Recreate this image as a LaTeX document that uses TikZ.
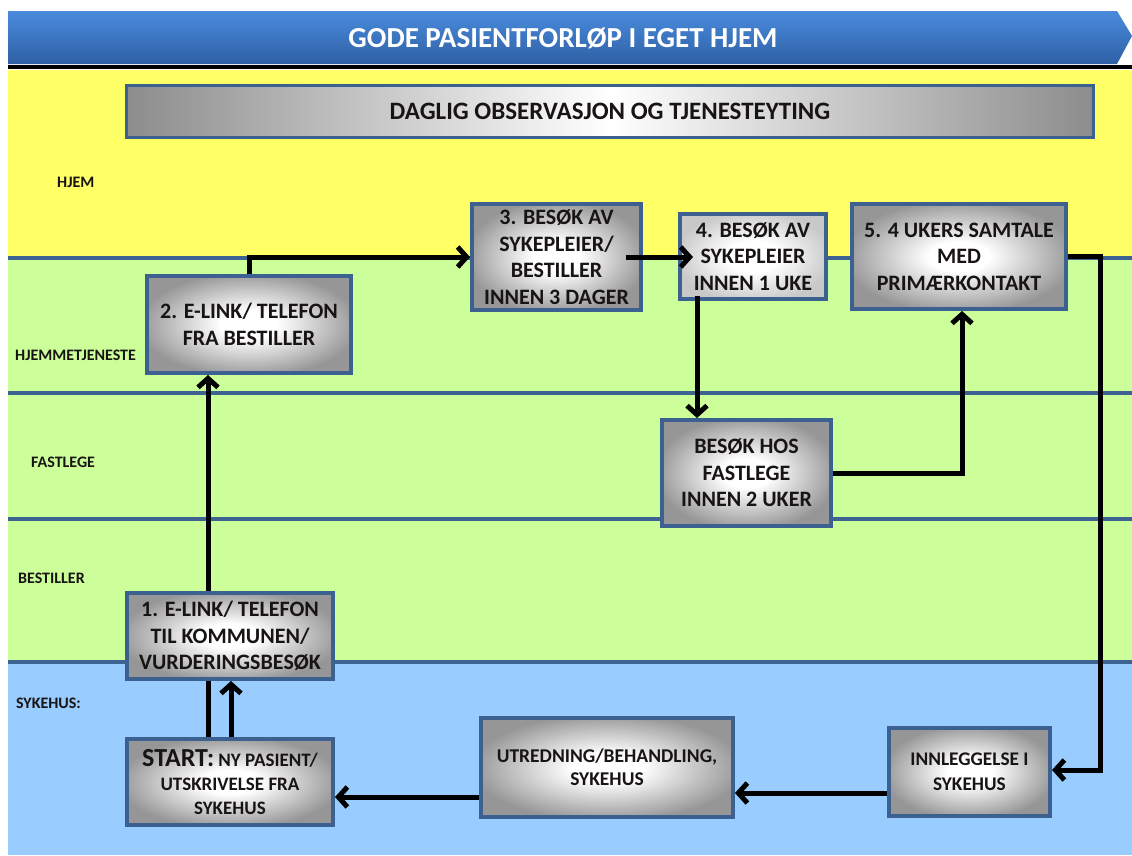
\documentclass[tikz,border=0pt]{standalone}
\usepackage{fontspec}
\setmainfont{Carlito}
\usetikzlibrary{arrows.meta,calc}
\definecolor{laneY}{RGB}{255,255,102}
\definecolor{laneG}{RGB}{204,255,153}
\definecolor{laneB}{RGB}{153,204,255}
\definecolor{sep}{RGB}{61,99,146}
\definecolor{bord}{RGB}{60,96,144}
\definecolor{titletop}{RGB}{74,139,221}
\definecolor{titlebot}{RGB}{46,96,164}
\definecolor{txt}{RGB}{25,20,20}
\definecolor{edgegray}{RGB}{150,150,150}
\definecolor{lightgray2}{RGB}{200,200,200}
\pgfdeclareradialshading{boxshade}{\pgfpoint{0bp}{0bp}}{color(0bp)=(white); color(7bp)=(white); color(27bp)=(edgegray); color(50bp)=(edgegray)}
\pgfdeclareradialshading{lightshade}{\pgfpoint{0bp}{0bp}}{color(0bp)=(white); color(9bp)=(white); color(27bp)=(lightgray2); color(50bp)=(lightgray2)}
\tikzset{
  box/.style={draw=bord, line width=4pt, shading=boxshade,
    align=center, text=txt, font=\fontsize{22}{26.5}\selectfont\bfseries, inner sep=2pt},
  lightbox/.style={box, shading=lightshade},
  lanelabel/.style={anchor=west, text=txt, font=\fontsize{16}{16}\selectfont\bfseries, inner sep=0pt},
  sepline/.style={draw=sep, line width=4pt},
  conn/.style={draw=black, line width=5pt},
  arr/.style={conn, -{Straight Barb[length=9pt,width=20pt]}}
}
\begin{document}
\begin{tikzpicture}[x=1pt,y=-1pt]
\useasboundingbox (0,0) rectangle (1132,855);
% lanes
\fill[laneY] (8,70) rectangle (1132,258);
\fill[laneG] (8,258) rectangle (1132,662);
\fill[laneB] (8,662) rectangle (1132,855);
\draw[sepline] (8,258) -- (1132,258);
\draw[sepline] (8,393) -- (1132,393);
\draw[sepline] (8,519) -- (1132,519);
\draw[sepline] (8,662) -- (1132,662);
% title bar
\shade[top color=titletop, bottom color=titlebot] (8,11) -- (1117,11) -- (1132,36) -- (1117,64) -- (8,64) -- cycle;
\draw[black, line width=4pt] (8,67) -- (1132,67);
\node[text=white, font=\fontsize{29}{29}\selectfont\bfseries] (title) at (563,38) {GODE PASIENTFORLØP I EGET HJEM};
% banner
\node[draw=bord, line width=3.5pt, left color=gray!90, right color=gray!90, middle color=white,
  minimum width=967pt, minimum height=52pt, text=txt, font=\fontsize{25}{25}\selectfont\bfseries]
  (banner) at (610,111.5) {DAGLIG OBSERVASJON OG TJENESTEYTING};
% lane labels
\node[lanelabel] (lHjem) at (57,182) {HJEM};
\node[lanelabel] (lHjt) at (15,355) {HJEMMETJENESTE};
\node[lanelabel] (lFast) at (31,462) {FASTLEGE};
\node[lanelabel] (lBest) at (18,578) {BESTILLER};
\node[lanelabel] (lSyk) at (16,703) {SYKEHUS:};
% boxes
\node[box, minimum width=204pt, minimum height=97pt] (b2) at (249,324.5) {2. E-LINK/ TELEFON\\FRA BESTILLER};
\node[box, minimum width=169pt, minimum height=106pt] (b3) at (556.5,257) {3. BESØK AV\\SYKEPLEIER/\\BESTILLER\\INNEN 3 DAGER};
\node[lightbox, minimum width=146pt, minimum height=85pt] (b4) at (753,256.5) {4. BESØK AV\\SYKEPLEIER\\INNEN 1 UKE};
\node[box, minimum width=214pt, minimum height=105pt] (b5) at (959,256.5) {5. 4 UKERS SAMTALE\\MED\\PRIMÆRKONTAKT};
\node[box, minimum width=169pt, minimum height=106pt] (fl) at (746.5,473) {BESØK HOS\\FASTLEGE\\INNEN 2 UKER};
\node[box, minimum width=206pt, minimum height=86pt] (b1) at (230,636) {1. E-LINK/ TELEFON\\TIL KOMMUNEN/\\VURDERINGSBESØK};
\node[box, minimum width=206pt, minimum height=86pt, font=\fontsize{19}{24}\selectfont\bfseries] (start) at (230,782) {{\fontsize{26}{26}\selectfont START:} NY PASIENT/\\UTSKRIVELSE FRA\\SYKEHUS};
\node[box, minimum width=252pt, minimum height=99pt, font=\fontsize{19.5}{23}\selectfont\bfseries] (utr) at (607,767.5) {UTREDNING/BEHANDLING,\\SYKEHUS};
\node[box, minimum width=161pt, minimum height=88pt, font=\fontsize{19.3}{25}\selectfont\bfseries] (inn) at (969.5,772) {INNLEGGELSE I\\SYKEHUS};
% connectors
\path ([xshift=-22pt]b1.north) coordinate (b1up);
\draw[arr] (b1up) -- (b1up |- b2.south);
\path ([xshift=-22pt]start.north) coordinate (s1);
\draw[conn] (s1) -- (s1 |- b1.south);
\path ([xshift=1pt]start.north) coordinate (s2);
\draw[arr] (s2) -- (s2 |- b1.south);
\draw[arr] (b2.north) |- (b3.west);
\draw[arr, shorten <=-17pt, shorten >=-15pt] (b3.east) -- (b3.east -| b4.west);
\path ([xshift=-56pt,yshift=5pt]b4.south) coordinate (b4d);
\draw[arr] (b4d) -- (b4d |- fl.north);
\draw[arr] (fl.east) -| ([xshift=3pt]b5.south);
\coordinate (turn) at (1100,256.5);
\draw[arr] (b5.east) -- (turn) |- ([yshift=2pt]inn.east);
\path ([yshift=-21pt]inn.west) coordinate (i1);
\draw[arr] (i1) -- (i1 -| utr.east);
\path ([yshift=-15pt]start.east) coordinate (s3);
\draw[arr] (s3 -| utr.west) -- (s3);
\end{tikzpicture}
\end{document}
